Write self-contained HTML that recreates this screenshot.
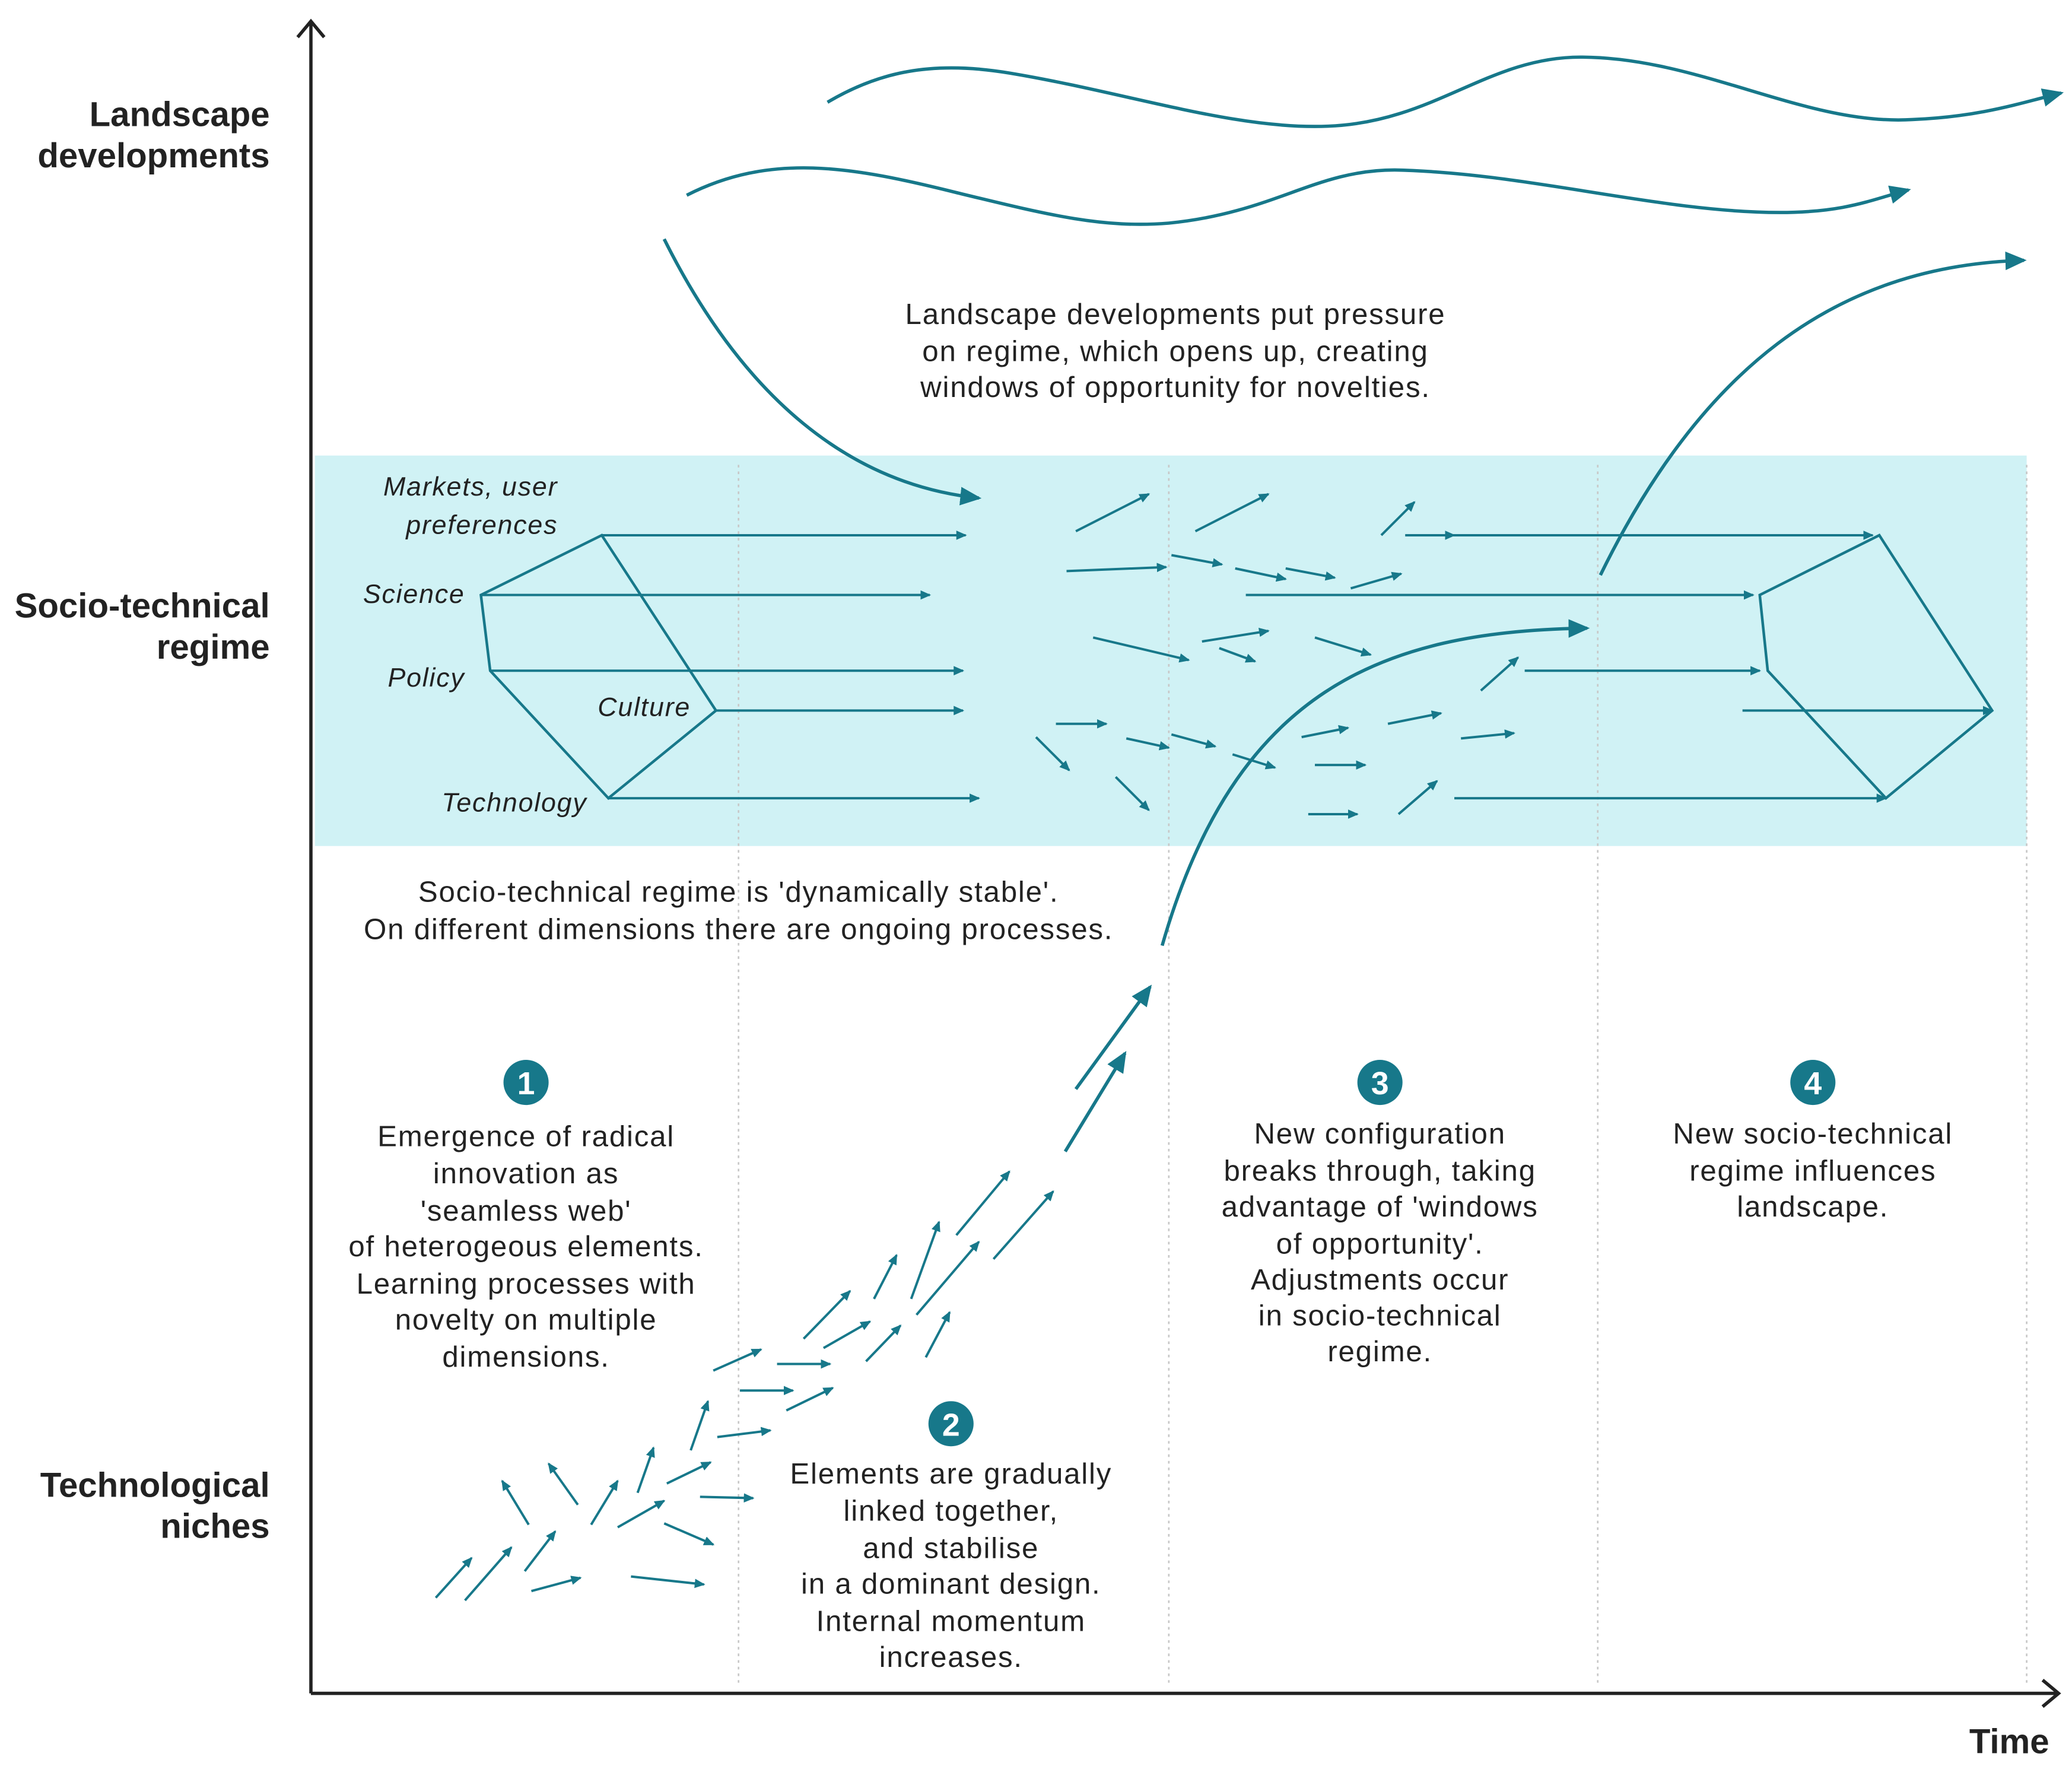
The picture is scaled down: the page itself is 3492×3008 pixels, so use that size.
<!DOCTYPE html>
<html><head><meta charset="utf-8"><style>
html,body{margin:0;padding:0;background:#fff;}
svg{display:block;}
text{font-family:"Liberation Sans",sans-serif;fill:#222;}
</style></head><body>
<svg width="3492" height="3008" viewBox="0 0 1560 1344" xmlns="http://www.w3.org/2000/svg">
<defs>
<marker id="a" markerWidth="8" markerHeight="8" refX="7" refY="4" orient="auto" markerUnits="userSpaceOnUse"><path d="M0,0.5 L8,4 L0,7.5z" fill="#17788a"/></marker>
<marker id="b" markerWidth="16" markerHeight="16" refX="14" refY="8" orient="auto" markerUnits="userSpaceOnUse"><path d="M0,1 L16,8 L0,15z" fill="#17788a"/></marker>
</defs>
<rect x="237" y="343" width="1289" height="294" fill="#d0f2f5"/>
<g stroke="#c8c8c8" stroke-width="1.2" stroke-dasharray="2,3">
<line x1="556" y1="350" x2="556" y2="1270"/><line x1="880" y1="350" x2="880" y2="1270"/>
<line x1="1203" y1="350" x2="1203" y2="1270"/><line x1="1526" y1="350" x2="1526" y2="1270"/>
</g>
<g stroke="#222" stroke-width="2.5" fill="none">
<line x1="234" y1="1275" x2="234" y2="16"/><path d="M224,28 L234,16 L244,28"/>
<line x1="234" y1="1275" x2="1550" y2="1275"/><path d="M1538,1265 L1550,1275 L1538,1285"/>
</g>
<g fill="none" stroke="#17788a" stroke-width="2.5">
<path d="M623,77 C660,55 700,45 760,55 C850,70 930,98 1000,95 C1080,92 1120,43 1190,43 C1280,43 1360,95 1440,90 C1490,88 1520,78 1552,70" marker-end="url(#b)"/>
<path d="M517,147 C580,115 640,125 720,145 C790,162 830,172 880,168 C960,160 990,128 1050,128 C1150,130 1250,160 1340,160 C1390,160 1410,150 1437,143" marker-end="url(#b)"/>
<path d="M500,180 C560,300 640,365 737,375" marker-end="url(#b)"/>
<path d="M1205,433 C1280,280 1380,200 1524,196" marker-end="url(#b)"/>
<path d="M875,712 C930,520 1040,475 1195,473" marker-end="url(#b)"/>
</g>
<g fill="none" stroke="#17788a" stroke-width="2">
<polygon points="453,403 362,448 369,505 458,601 539,535"/>
<polygon points="1415,403 1325,448 1331,505 1420,601 1500,535"/>
</g>
<g stroke="#17788a" stroke-width="1.8" marker-end="url(#a)">
<line x1="453" y1="403" x2="727" y2="403"/><line x1="362" y1="448" x2="700" y2="448"/>
<line x1="369" y1="505" x2="725" y2="505"/><line x1="539" y1="535" x2="725" y2="535"/>
<line x1="458" y1="601" x2="737" y2="601"/>
<line x1="810" y1="400" x2="865" y2="372"/><line x1="900" y1="400" x2="955" y2="372"/>
<line x1="1040" y1="403" x2="1065" y2="378"/><line x1="1058" y1="403" x2="1095" y2="403"/>
<line x1="1095" y1="403" x2="1410" y2="403"/>
<line x1="803" y1="430" x2="878" y2="427"/><line x1="882" y1="418" x2="920" y2="425"/>
<line x1="930" y1="428" x2="968" y2="436"/><line x1="968" y1="428" x2="1005" y2="435"/>
<line x1="1017" y1="443" x2="1055" y2="432"/><line x1="938" y1="448" x2="1320" y2="448"/>
<line x1="823" y1="480" x2="895" y2="497"/><line x1="905" y1="483" x2="955" y2="475"/>
<line x1="918" y1="488" x2="945" y2="498"/><line x1="990" y1="480" x2="1032" y2="493"/>
<line x1="1148" y1="505" x2="1325" y2="505"/><line x1="1115" y1="520" x2="1143" y2="495"/>
<line x1="1312" y1="535" x2="1500" y2="535"/>
<line x1="795" y1="545" x2="833" y2="545"/><line x1="780" y1="555" x2="805" y2="580"/>
<line x1="848" y1="556" x2="880" y2="563"/><line x1="882" y1="553" x2="915" y2="562"/>
<line x1="928" y1="568" x2="960" y2="578"/><line x1="840" y1="585" x2="865" y2="610"/>
<line x1="980" y1="555" x2="1015" y2="548"/><line x1="1045" y1="545" x2="1085" y2="537"/>
<line x1="1100" y1="556" x2="1140" y2="552"/><line x1="990" y1="576" x2="1028" y2="576"/>
<line x1="985" y1="613" x2="1022" y2="613"/><line x1="1053" y1="613" x2="1082" y2="588"/>
<line x1="1095" y1="601" x2="1420" y2="601"/>
<line x1="328" y1="1203" x2="355" y2="1173"/><line x1="350" y1="1205" x2="385" y2="1165"/>
<line x1="395" y1="1183" x2="418" y2="1153"/><line x1="400" y1="1198" x2="437" y2="1188"/>
<line x1="398" y1="1148" x2="378" y2="1115"/><line x1="435" y1="1133" x2="413" y2="1102"/>
<line x1="445" y1="1148" x2="465" y2="1115"/><line x1="475" y1="1187" x2="530" y2="1193"/>
<line x1="465" y1="1150" x2="500" y2="1130"/><line x1="480" y1="1124" x2="492" y2="1090"/>
<line x1="500" y1="1147" x2="537" y2="1163"/><line x1="502" y1="1117" x2="535" y2="1101"/>
<line x1="527" y1="1127" x2="567" y2="1128"/><line x1="520" y1="1092" x2="533" y2="1055"/>
<line x1="540" y1="1082" x2="580" y2="1077"/><line x1="537" y1="1032" x2="573" y2="1016"/>
<line x1="557" y1="1047" x2="597" y2="1047"/><line x1="585" y1="1027" x2="625" y2="1027"/>
<line x1="592" y1="1062" x2="627" y2="1045"/><line x1="605" y1="1008" x2="640" y2="972"/>
<line x1="620" y1="1015" x2="655" y2="995"/><line x1="652" y1="1025" x2="678" y2="998"/>
<line x1="658" y1="978" x2="675" y2="945"/><line x1="686" y1="978" x2="707" y2="920"/>
<line x1="697" y1="1022" x2="715" y2="988"/><line x1="690" y1="990" x2="737" y2="935"/>
<line x1="720" y1="930" x2="760" y2="882"/><line x1="748" y1="948" x2="793" y2="897"/>
</g>
<g stroke="#17788a" stroke-width="2.5" marker-end="url(#b)">
<line x1="802" y1="867" x2="847" y2="793"/><line x1="810" y1="820" x2="866" y2="743"/>
</g>
<g fill="#17788a"><circle cx="396" cy="815" r="17"/><circle cx="716" cy="1072" r="17"/><circle cx="1039" cy="815" r="17"/><circle cx="1365" cy="815" r="17"/></g>
<g font-size="24" font-weight="bold" text-anchor="middle">
<text x="396" y="824" style="fill:#fff">1</text><text x="716" y="1081" style="fill:#fff">2</text>
<text x="1039" y="824" style="fill:#fff">3</text><text x="1365" y="824" style="fill:#fff">4</text>
</g>
<g font-size="26" font-weight="bold" text-anchor="end">
<text x="203" y="95">Landscape</text><text x="203" y="126">developments</text>
<text x="203" y="465">Socio-technical</text><text x="203" y="496">regime</text>
<text x="203" y="1127">Technological</text><text x="203" y="1158">niches</text>
<text x="1543" y="1320">Time</text>
</g>
<g font-size="20" font-style="italic" letter-spacing="0.8">
<text x="420" y="373" text-anchor="end">Markets, user</text><text x="420" y="402" text-anchor="end">preferences</text>
<text x="350" y="454" text-anchor="end">Science</text><text x="350" y="517" text-anchor="end">Policy</text>
<text x="520" y="539" text-anchor="end">Culture</text><text x="442" y="611" text-anchor="end">Technology</text>
</g>
<g font-size="22" text-anchor="middle" letter-spacing="0.8">
<text x="885" y="244">Landscape developments put pressure</text>
<text x="885" y="272">on regime, which opens up, creating</text>
<text x="885" y="299">windows of opportunity for novelties.</text>
<text x="556" y="679">Socio-technical regime is 'dynamically stable'.</text>
<text x="556" y="707">On different dimensions there are ongoing processes.</text>
<text x="396" y="863">Emergence of radical</text><text x="396" y="891">innovation as</text>
<text x="396" y="919">'seamless web'</text><text x="396" y="946">of heterogeous elements.</text>
<text x="396" y="974">Learning processes with</text><text x="396" y="1001">novelty on multiple</text>
<text x="396" y="1029">dimensions.</text>
<text x="716" y="1117">Elements are gradually</text><text x="716" y="1145">linked together,</text>
<text x="716" y="1173">and stabilise</text><text x="716" y="1200">in a dominant design.</text>
<text x="716" y="1228">Internal momentum</text><text x="716" y="1255">increases.</text>
<text x="1039" y="861">New configuration</text><text x="1039" y="889">breaks through, taking</text>
<text x="1039" y="916">advantage of 'windows</text><text x="1039" y="944">of opportunity'.</text>
<text x="1039" y="971">Adjustments occur</text><text x="1039" y="998">in socio-technical</text>
<text x="1039" y="1025">regime.</text>
<text x="1365" y="861">New socio-technical</text><text x="1365" y="889">regime influences</text>
<text x="1365" y="916">landscape.</text>
</g>
</svg>
</body></html>
